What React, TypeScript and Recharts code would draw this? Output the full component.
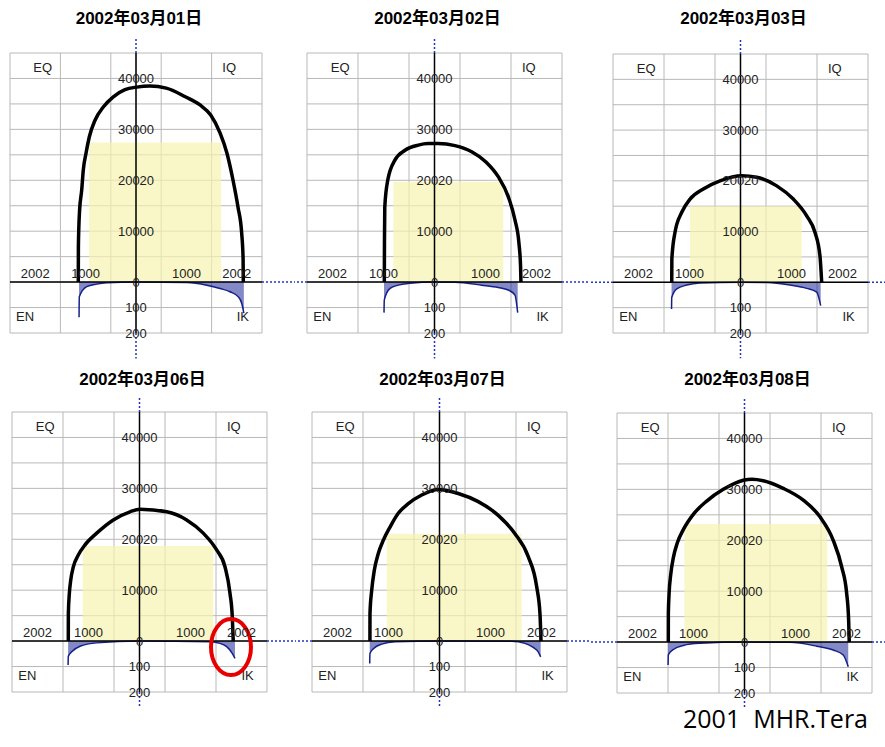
import React from 'react';
import {
  ComposedChart,
  Line,
  Area,
  XAxis,
  YAxis,
  CartesianGrid,
  ReferenceLine,
  ReferenceArea,
  ReferenceDot,
} from 'recharts';

// one panel per day
const days = [
  '2002年03月01日',
  '2002年03月02日',
  '2002年03月03日',
  '2002年03月06日',
  '2002年03月07日',
  '2002年03月08日',
];

// black arc, upper scale: [x, value]
const arc01 = [[-1145, 0], [-1143, 7000], [-1120, 14000], [-1077, 18100], [-1046, 22000], [-992, 25300], [-927, 28500], [-813, 31800], [-649, 34400], [-450, 36400], [-218, 37800], [14, 38300], [278, 38500], [600, 38100], [978, 36400], [1270, 34800], [1482, 32800], [1667, 29300], [1805, 25300], [1925, 20000], [2024, 14700], [2097, 9600], [2125, 4500], [2129, 0]];
const arc02 = [[-984, 0], [-981, 8000], [-975, 14700], [-917, 20000], [-774, 24000], [-578, 25900], [-318, 26900], [-127, 27200], [69, 27200], [402, 26800], [729, 25600], [1009, 23600], [1250, 20700], [1446, 16800], [1578, 12200], [1656, 7600], [1688, 3000], [1695, 0]];
const arc03 = [[-1348, 0], [-1346, 4600], [-1284, 9850], [-1152, 13800], [-990, 16400], [-729, 18400], [-402, 20000], [24, 21000], [318, 20700], [710, 19000], [1035, 16400], [1298, 13100], [1460, 9850], [1558, 5200], [1592, 0]];
const arc06 = [[-1396, 0], [-1395, 5400], [-1376, 9300], [-1348, 12000], [-1297, 14600], [-1200, 16900], [-1068, 18900], [-839, 21200], [-514, 23800], [-186, 25400], [10, 25900], [533, 25400], [925, 23800], [1250, 21200], [1513, 17900], [1676, 14600], [1774, 9400], [1819, 4800], [1838, 0]];
const arc07 = [[-1364, 0], [-1363, 5400], [-1329, 10000], [-1278, 13900], [-1200, 17200], [-1102, 19800], [-970, 22400], [-808, 25100], [-612, 27000], [-349, 28700], [-24, 29800], [368, 29000], [760, 27400], [1152, 24700], [1480, 21100], [1740, 16600], [1905, 10700], [1970, 5400], [1990, 0]];
const arc08 = [[-1494, 0], [-1493, 5600], [-1479, 9400], [-1446, 13300], [-1395, 16600], [-1317, 19500], [-1200, 22100], [-1004, 25100], [-741, 27700], [-415, 30000], [-24, 31800], [150, 32000], [368, 31700], [760, 30200], [1152, 27900], [1480, 24600], [1740, 20000], [1905, 14800], [2003, 9600], [2042, 4300], [2054, 0]];
const arcs = [arc01, arc02, arc03, arc06, arc07, arc08];

// blue curves, lower scale (100 per grid row): [x, value]
const loss01 = [[-1130, -138], [-1125, -58], [-978, -18], [-780, -8], [-581, -3], [0, 0], [1006, -2], [1403, -12], [1667, -25], [1865, -38], [2030, -58], [2097, -83], [2140, -122]];
const loss02 = [[-990, -120], [-984, -70], [-872, -25], [-710, -12], [-480, -5], [0, 0], [402, -1], [925, -12], [1250, -21], [1446, -31], [1578, -51], [1631, -120]];
const loss03 = [[-1352, -105], [-1348, -60], [-1250, -26], [-1054, -11], [-794, -3], [0, 0], [514, -1], [970, -11], [1298, -24], [1494, -39], [1572, -92]];
const loss06 = [[-1400, -94], [-1396, -60], [-1329, -42], [-1166, -20], [-839, -7], [0, 0], [1382, -3], [1578, -9], [1709, -22], [1819, -48], [1872, -68]];
const loss07 = [[-1368, -88], [-1364, -50], [-1290, -29], [-1133, -12], [-872, -3], [0, 0], [1415, -1], [1676, -9], [1838, -25], [1936, -42], [1984, -62]];
const loss08 = [[-1498, -90], [-1494, -50], [-1396, -29], [-1200, -13], [-872, -5], [0, 0], [892, -1], [1415, -16], [1740, -31], [1936, -51], [2034, -97]];
const losses = [loss01, loss02, loss03, loss06, loss07, loss08];

// pale yellow block: [x1, x2, top]
const yellowBoxes = [
  [-930, 1690, 27400],
  [-808, 1348, 19700],
  [-990, 1200, 15000],
  [-1113, 1446, 18660],
  [-1035, 1611, 21100],
  [-1180, 1623, 23200],
];

const gridX = [-2500, -2000, -1500, -1000, -500, 0, 500, 1000, 1500, 2000, 2500];
const gridY = [-10000, -5000, 0, 5000, 10000, 15000, 20000, 25000, 30000, 35000, 40000, 45000];
const upperTicks = [40000, 30000, 20000, 10000, 0];
const upperLabels = ['40000', '30000', '20020', '10000', '0'];
const lowerTicks = [-100, -200];
const lowerLabels = ['100', '200'];
const sideTicks = [-2000, -1000, 1000, 2000];
const sideLabels = ['2002', '1000', '1000', '2002'];
const corners: [string, number, number][] = [
  ['EQ', -1850, 42200],
  ['IQ', 1850, 42200],
  ['EN', -2200, -6700],
  ['IK', 2120, -6800],
];

// where each panel's grid sits on the page
const cells = [
  { cx: 0, cy: 0, ch: 360, x: 10, y: 53, w: 252, h: 280, leftExt: false, down: -15000 },
  { cx: 295, cy: 0, ch: 360, x: 307, y: 53, w: 255, h: 280, leftExt: true, down: -15000 },
  { cx: 590, cy: 0, ch: 360, x: 613, y: 54, w: 255, h: 279, leftExt: true, down: -15000 },
  { cx: 0, cy: 360, ch: 387, x: 12, y: 412, w: 255, h: 280, leftExt: false, down: -13000 },
  { cx: 295, cy: 360, ch: 387, x: 312, y: 412, w: 255, h: 280, leftExt: true, down: -13000 },
  { cx: 590, cy: 360, ch: 387, x: 617, y: 413, w: 255, h: 280, leftExt: true, down: -13000 },
];

const font = '"Liberation Sans", Arial, "Noto Sans CJK JP", sans-serif';
const dotBlue = '#2233c4';
const lbl = { position: 'center' as const, fontSize: 13, fill: '#222' };

const Panel = ({ idx }: { idx: number }) => {
  const c = cells[idx];
  const arc = arcs[idx].map(([x, y]) => ({ x, y }));
  const loss = losses[idx].map(([x, y]) => ({ x, y }));
  const [bx1, bx2, by2] = yellowBoxes[idx];
  const axisPx = c.x - c.cx + c.w / 2;

  return (
    <div style={{ position: 'absolute', left: c.cx, top: c.cy, width: 295, height: c.ch }}>
      <ComposedChart
        width={295}
        height={c.ch}
        margin={{
          left: c.x - c.cx,
          top: c.y - c.cy,
          right: c.cx + 295 - c.x - c.w,
          bottom: c.cy + c.ch - c.y - c.h,
        }}
      >
        <XAxis type="number" dataKey="x" domain={[-2500, 2500]} ticks={gridX} allowDataOverflow hide />
        <YAxis type="number" dataKey="y" domain={[-10000, 45000]} ticks={gridY} allowDataOverflow hide />
        <YAxis yAxisId="lo" type="number" dataKey="y" domain={[-200, 900]} allowDataOverflow hide />
        <CartesianGrid stroke="#b8b8b8" strokeWidth={1} />
        <ReferenceArea x1={bx1} x2={bx2} y1={0} y2={by2} fill="#f7f3b0" fillOpacity={0.7} stroke="none" />

        <ReferenceLine y={0} stroke="#000" strokeWidth={1.5} />
        <ReferenceLine x={0} stroke="#000" strokeWidth={1.5} />
        <ReferenceLine
          segment={[{ x: 2500, y: 0 }, { x: 4500, y: 0 }]}
          ifOverflow="visible"
          stroke={dotBlue}
          strokeWidth={1.5}
          strokeDasharray="2 2"
        />
        {c.leftExt && (
          <ReferenceLine
            segment={[{ x: -4500, y: 0 }, { x: -2500, y: 0 }]}
            ifOverflow="visible"
            stroke={dotBlue}
            strokeWidth={1.5}
            strokeDasharray="2 2"
          />
        )}
        <ReferenceLine
          segment={[{ x: 0, y: 45000 }, { x: 0, y: 48100 }]}
          ifOverflow="visible"
          stroke={dotBlue}
          strokeWidth={1.5}
          strokeDasharray="2 2"
        />
        <ReferenceLine
          segment={[{ x: 0, y: -10000 }, { x: 0, y: c.down }]}
          ifOverflow="visible"
          stroke={dotBlue}
          strokeWidth={1.5}
          strokeDasharray="2 2"
        />

        {upperTicks.map((v, i) => (
          <ReferenceDot key={'u' + i} x={0} y={v} r={0} fill="none" stroke="none" label={{ ...lbl, value: upperLabels[i] }} />
        ))}
        {lowerTicks.map((v, i) => (
          <ReferenceDot key={'l' + i} yAxisId="lo" x={0} y={v} r={0} fill="none" stroke="none" label={{ ...lbl, value: lowerLabels[i] }} />
        ))}
        {sideTicks.map((v, i) => (
          <ReferenceDot key={'s' + i} x={v} y={1800} r={0} fill="none" stroke="none" label={{ ...lbl, value: sideLabels[i] }} />
        ))}
        {corners.map(([t, x, y]) => (
          <ReferenceDot key={t} x={x} y={y} r={0} fill="none" stroke="none" label={{ ...lbl, value: t }} />
        ))}

        <Area
          yAxisId="lo"
          data={loss}
          dataKey="y"
          type="monotone"
          stroke="#141f8a"
          strokeWidth={1.5}
          fill="#1c2896"
          fillOpacity={0.55}
          dot={false}
          activeDot={false}
          isAnimationActive={false}
        />
        <Line
          data={arc}
          dataKey="y"
          type="monotone"
          stroke="#000"
          strokeWidth={3.5}
          dot={false}
          activeDot={false}
          isAnimationActive={false}
        />

        {idx === 3 && (
          <ReferenceDot
            x={1794}
            y={-1180}
            shape={(p: any) => (
              <ellipse cx={p.cx} cy={p.cy} rx={20} ry={28} fill="none" stroke="#e80000" strokeWidth={4} />
            )}
          />
        )}
      </ComposedChart>
      <div
        style={{
          position: 'absolute',
          left: axisPx + 3 - 150,
          top: idx < 3 ? 9 : 10,
          width: 300,
          textAlign: 'center',
          fontWeight: 'bold',
          fontSize: 17,
          lineHeight: '20px',
          color: '#000',
        }}
      >
        {days[idx]}
      </div>
    </div>
  );
};

export default function App() {
  return (
    <div
      style={{
        position: 'absolute',
        left: 0,
        top: 0,
        width: 885,
        height: 747,
        background: '#fff',
        fontFamily: font,
        overflow: 'hidden',
      }}
    >
      {cells.map((_, i) => (
        <Panel key={i} idx={i} />
      ))}
      <div
        style={{
          position: 'absolute',
          left: 683,
          top: 703,
          fontFamily: '"Open Sans", "Noto Sans", sans-serif',
          fontSize: 25,
          lineHeight: '30px',
          whiteSpace: 'pre',
          color: '#000',
        }}
      >
        {'2001  MHR.Tera'}
      </div>
    </div>
  );
}
